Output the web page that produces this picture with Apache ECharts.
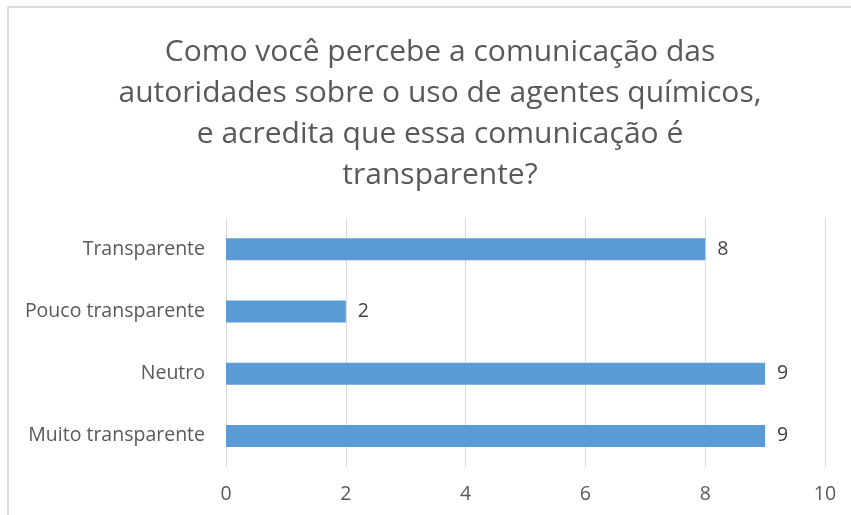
<!DOCTYPE html>
<html>
<head>
<meta charset="utf-8">
<script src="https://cdn.jsdelivr.net/npm/echarts@6/dist/echarts.min.js"></script>
<style>html,body{margin:0;padding:0;background:#fff}#c{width:851px;height:515px}</style>
</head>
<body>
<div id="c"></div>
<script>
const categories = ['Muito transparente', 'Neutro', 'Pouco transparente', 'Transparente'];
const values = [9, 9, 2, 8];
const xTicks = [0, 2, 4, 6, 8, 10];
const titleText = 'Como você percebe a comunicação das\nautoridades sobre o uso de agentes químicos,\ne acredita que essa comunicação é\ntransparente?';

const chart = echarts.init(document.getElementById('c'));
const font = '"Open Sans", "Noto Sans", sans-serif';
chart.setOption({
  animation: false,
  title: {
    text: titleText,
    left: 435, top: 27, textAlign: 'center',
    textStyle: { fontFamily: font, fontSize: 30, fontWeight: 'normal', color: '#595959', lineHeight: 41 }
  },
  graphic: [
    { type: 'line', shape: { x1: 8, y1: 7, x2: 851, y2: 7 }, style: { stroke: '#d9d9d9', lineWidth: 2 } },
    { type: 'line', shape: { x1: 8, y1: 7, x2: 8, y2: 515 }, style: { stroke: '#d9d9d9', lineWidth: 2 } }
  ],
  grid: { left: 226, right: 26, top: 218, bottom: 48, containLabel: false },
  xAxis: {
    type: 'value', min: xTicks[0], max: xTicks[xTicks.length - 1], interval: 2,
    axisLine: { show: false }, axisTick: { show: false },
    splitLine: { lineStyle: { color: '#d9d9d9', width: 1 } },
    axisLabel: { fontFamily: font, fontSize: 19.5, color: '#595959', margin: 17 }
  },
  yAxis: {
    type: 'category', data: categories,
    axisLine: { show: false }, axisTick: { show: false },
    axisLabel: { fontFamily: font, fontSize: 19.5, color: '#595959', margin: 21 }
  },
  series: [{
    type: 'bar', data: values, barWidth: 22,
    itemStyle: { color: '#5b9bd5' },
    label: { show: true, position: 'right', distance: 12, fontFamily: font, fontSize: 19.5, color: '#404040' }
  }]
});
</script>
</body>
</html>
